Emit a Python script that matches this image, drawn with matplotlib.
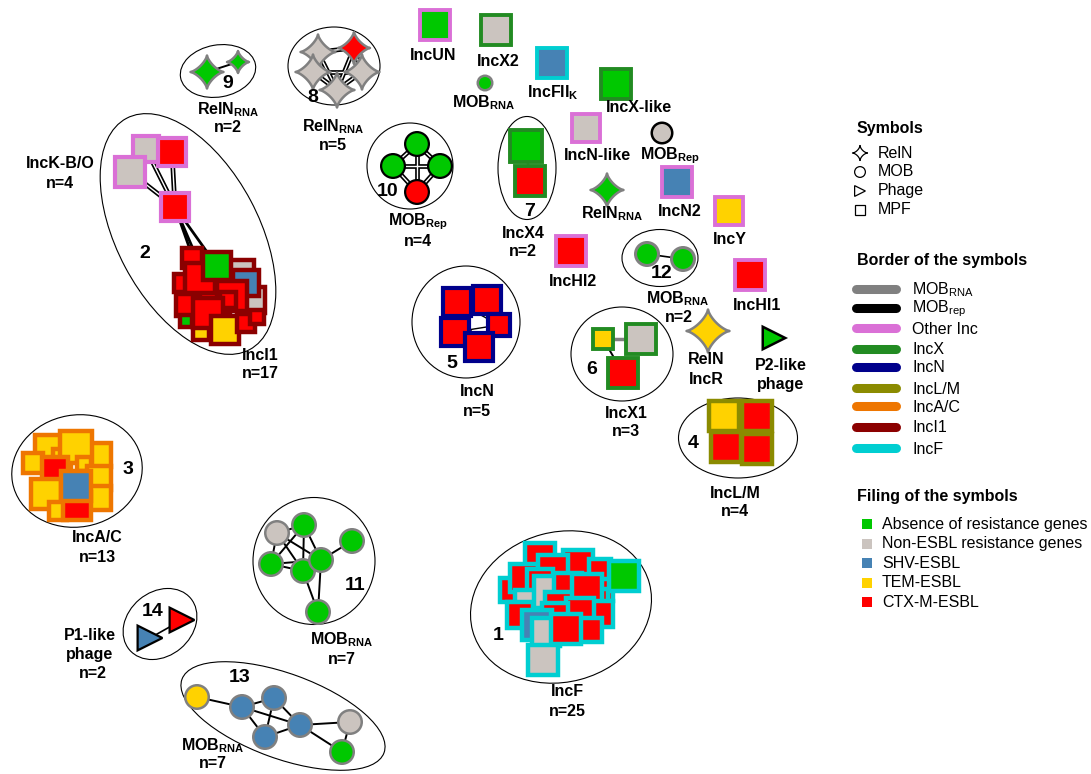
import numpy as np
import matplotlib
matplotlib.use("Agg")
import matplotlib.pyplot as plt
from matplotlib.patches import Rectangle, Circle, Ellipse, Polygon

plt.rcParams['font.family'] = ['Liberation Sans', 'DejaVu Sans']
plt.rcParams['mathtext.fontset'] = 'custom'
plt.rcParams['mathtext.rm'] = 'Liberation Sans'
plt.rcParams['mathtext.bf'] = 'Liberation Sans:bold'
plt.rcParams['mathtext.it'] = 'Liberation Sans:italic'

# filling = resistance content
fill_labels = ['Absence of resistance genes', 'Non-ESBL resistance genes',
               'SHV-ESBL', 'TEM-ESBL', 'CTX-M-ESBL']
fill_keys = ['none', 'nonesbl', 'shv', 'tem', 'ctxm']
fill_colors = ['#00c800', '#cbc4bf', '#4682b4', '#ffd200', '#ff0000']

# border = replicon / MOB type
border_labels = [r'MOB$_{\rm RNA}$', r'MOB$_{\rm rep}$', 'Other Inc', 'IncX', 'IncN',
                 'IncL/M', 'IncA/C', 'IncI1', 'IncF']
border_keys = ['mobrna', 'mobrep', 'other', 'incx', 'incn', 'inclm', 'incac', 'inci1', 'incf']
border_colors = ['#808080', '#000000', '#da70d6', '#228b22', '#00008b',
                 '#8b8b00', '#ee7600', '#8b0000', '#00ced1']

symbol_labels = ['RelN', 'MOB', 'Phage', 'MPF']
symbol_shapes = ['st', 'ci', 'tr', 'sq']

FILL = dict(zip(fill_keys, fill_colors))
BORDER = dict(zip(border_keys, border_colors))

# singletons: x, y, size, shape, fill, border
singletons = [
    (435, 25, 33, 'sq', 'none', 'other'),
    (496, 30, 34, 'sq', 'nonesbl', 'incx'),
    (485, 83, 17, 'ci', 'none', 'mobrna'),
    (552, 63, 33, 'sq', 'shv', 'incf'),
    (616, 84, 33, 'sq', 'none', 'incx'),
    (586, 128, 32, 'sq', 'nonesbl', 'other'),
    (662, 133, 23, 'ci', 'nonesbl', 'mobrep'),
    (607, 190, 34, 'st', 'none', 'mobrna'),
    (677, 182, 33, 'sq', 'shv', 'other'),
    (729, 211, 32, 'sq', 'tem', 'other'),
    (571, 251, 33, 'sq', 'ctxm', 'other'),
    (750, 275, 33, 'sq', 'ctxm', 'other'),
    (708, 331, 44, 'st', 'tem', 'mobrna'),
    (774, 338, 25, 'tr', 'none', 'mobrep'),
]

# cluster 1 IncF (x, y, size, fill)
c1 = [(512, 590, 28, 'ctxm'), (540, 558, 34, 'ctxm'), (578, 565, 34, 'ctxm'),
      (600, 570, 26, 'ctxm'), (524, 578, 32, 'ctxm'), (553, 570, 34, 'ctxm'),
      (540, 582, 30, 'ctxm'), (530, 605, 34, 'nonesbl'), (520, 615, 30, 'ctxm'),
      (550, 592, 36, 'nonesbl'), (568, 587, 32, 'ctxm'), (560, 607, 34, 'ctxm'),
      (602, 590, 26, 'ctxm'), (595, 602, 30, 'ctxm'), (587, 589, 35, 'ctxm'),
      (600, 614, 30, 'ctxm'), (580, 612, 32, 'ctxm'), (555, 616, 30, 'ctxm'),
      (537, 625, 34, 'shv'), (590, 630, 28, 'ctxm'), (546, 632, 33, 'nonesbl'),
      (566, 629, 35, 'ctxm'), (624, 576, 34, 'none'), (543, 660, 35, 'nonesbl')]

# cluster 2: Other Inc part and IncI1 part
c2_other = [(146, 149, 31, 'nonesbl'), (172, 152, 33, 'ctxm'),
            (130, 172, 34, 'nonesbl'), (175, 207, 33, 'ctxm')]
c2_inci1 = [(215, 300, 34, 'ctxm'), (252, 300, 30, 'nonesbl'), (242, 272, 28, 'nonesbl'),
            (246, 283, 31, 'shv'), (192, 258, 24, 'ctxm'), (183, 283, 22, 'ctxm'),
            (187, 305, 26, 'ctxm'), (200, 278, 34, 'ctxm'), (217, 266, 33, 'none'),
            (232, 296, 34, 'ctxm'), (228, 300, 20, 'ctxm'), (186, 321, 16, 'none'),
            (201, 332, 21, 'tem'), (208, 313, 34, 'ctxm'), (225, 330, 32, 'tem'),
            (246, 323, 22, 'ctxm'), (257, 317, 19, 'ctxm')]

# cluster 3 IncA/C
c3 = [(48, 448, 31, 'tem'), (33, 463, 24, 'tem'), (99, 455, 29, 'tem'),
      (62, 458, 22, 'tem'), (76, 447, 37, 'tem'), (84, 464, 18, 'tem'),
      (55, 470, 31, 'ctxm'), (99, 478, 28, 'tem'), (99, 498, 28, 'tem'),
      (46, 494, 34, 'tem'), (58, 511, 22, 'tem'), (77, 506, 32, 'ctxm'),
      (76, 486, 34, 'shv')]

c4 = [(724, 416, 34, 'tem'), (757, 416, 34, 'ctxm'), (726, 447, 34, 'ctxm'), (757, 449, 34, 'ctxm')]
c5 = [(457, 302, 33, 'ctxm'), (487, 300, 33, 'ctxm'), (455, 332, 33, 'ctxm'),
      (499, 325, 26, 'ctxm'), (479, 347, 33, 'ctxm')]
c6 = [(603, 339, 23, 'tem'), (641, 339, 34, 'nonesbl'), (623, 373, 34, 'ctxm')]
c7 = [(526, 146, 35, 'none'), (530, 181, 34, 'ctxm')]
c8 = [(318, 52, 36, 'nonesbl'), (313, 72, 36, 'nonesbl'), (337, 90, 36, 'nonesbl'),
      (362, 72, 36, 'nonesbl'), (354, 48, 33, 'ctxm')]
c9 = [(207, 72, 34, 'none'), (238, 62, 23, 'none')]
c10 = [(417, 144, 26, 'none'), (393, 166, 26, 'none'), (440, 166, 26, 'none'), (417, 192, 26, 'ctxm')]
c11 = [(277, 533, 26, 'nonesbl'), (304, 525, 26, 'none'), (352, 541, 26, 'none'),
       (271, 564, 26, 'none'), (303, 571, 26, 'none'), (321, 560, 26, 'none'), (318, 612, 26, 'none')]
c12 = [(647, 254, 26, 'none'), (683, 259, 26, 'none')]
c13 = [(197, 697, 26, 'tem'), (242, 707, 26, 'shv'), (274, 698, 26, 'shv'),
       (265, 737, 26, 'shv'), (300, 725, 26, 'shv'), (350, 722, 26, 'nonesbl'), (342, 752, 26, 'none')]
c14 = [(150, 638, 27, 'shv'), (182, 620, 27, 'ctxm')]

e10 = [(0, 1), (0, 2), (0, 3), (1, 2), (1, 3), (2, 3)]
e8 = [(0, 1), (1, 2), (2, 3), (3, 4), (4, 0), (0, 2), (1, 3), (2, 4)]
e11 = [(0, 1), (0, 3), (0, 4), (0, 5), (1, 3), (1, 4), (1, 5), (3, 4), (3, 5), (4, 5), (2, 5), (5, 6), (4, 6)]
e13 = [(0, 1), (1, 2), (1, 3), (1, 4), (2, 3), (2, 4), (3, 4), (4, 5), (4, 6), (5, 6)]

# ellipses: cx, cy, width, height, angle
ellipses = [(561, 607, 183, 150, -15), (188, 234, 262, 142, 62), (77, 471, 131, 112, -10),
            (738, 438, 119, 80, 0), (466, 322, 108, 112, 0), (622, 354, 102, 94, 0),
            (527, 168, 58, 103, 0), (334, 66, 92, 78, 0), (218, 71, 76, 52, -10),
            (410, 166, 86, 86, 0), (314, 561, 122, 127, 0), (660, 258, 76, 57, 0),
            (283, 716, 215, 85, 20), (160, 624, 80, 64, -40)]

numbers = [(498, 635, '1'), (145, 253, '2'), (128, 470, '3'), (693, 443, '4'), (452, 363, '5'),
           (592, 370, '6'), (530, 211, '7'), (313, 98, '8'), (228, 83, '9'), (388, 192, '10'),
           (355, 585, '11'), (662, 273, '12'), (240, 678, '13'), (153, 612, '14')]

labels = [(433, 56, 'IncUN'), (498, 61, 'IncX2'), (484, 103, r'MOB$_\mathbf{RNA}$'),
          (553, 93, r'IncFII$_\mathbf{K}$'), (639, 108, 'IncX-like'), (597, 156, 'IncN-like'),
          (670, 156, r'MOB$_\mathbf{Rep}$'), (612, 214, r'RelN$_\mathbf{RNA}$'),
          (680, 211, 'IncN2'), (730, 239, 'IncY'), (573, 281, 'IncHI2'), (757, 306, 'IncHI1'),
          (706, 360, 'RelN'), (706, 379, 'IncR'), (781, 365, 'P2-like'), (781, 384, 'phage'),
          (567, 692, 'IncF'), (567, 712, 'n=25'),
          (60, 163, 'IncK-B/O'), (60, 183, 'n=4'), (260, 355, 'IncI1'), (260, 374, 'n=17'),
          (97, 538, 'IncA/C'), (97, 557, 'n=13'),
          (735, 493, 'IncL/M'), (735, 512, 'n=4'),
          (477, 392, 'IncN'), (477, 411, 'n=5'),
          (626, 413, 'IncX1'), (626, 432, 'n=3'),
          (523, 233, 'IncX4'), (523, 252, 'n=2'),
          (333, 127, r'RelN$_\mathbf{RNA}$'), (333, 146, 'n=5'),
          (228, 110, r'RelN$_\mathbf{RNA}$'), (228, 128, 'n=2'),
          (418, 222, r'MOB$_\mathbf{Rep}$'), (418, 242, 'n=4'),
          (342, 640, r'MOB$_\mathbf{RNA}$'), (342, 659, 'n=7'),
          (678, 299, r'MOB$_\mathbf{RNA}$'), (679, 318, 'n=2'),
          (213, 746, r'MOB$_\mathbf{RNA}$'), (213, 764, 'n=7'),
          (90, 635, 'P1-like'), (90, 654, 'phage'), (93, 673, 'n=2')]

fig = plt.figure(figsize=(10.91, 7.74), dpi=100)
ax = fig.add_axes([0, 0, 1, 1])
ax.set_xlim(0, 1091)
ax.set_ylim(774, 0)
ax.axis('off')


def star(x, y, s, p=2.75):
    t = np.linspace(0, 2 * np.pi, 200)
    c, si = np.cos(t), np.sin(t)
    px = x + s / 2 * np.sign(c) * np.abs(c) ** p
    py = y + s / 2 * np.sign(si) * np.abs(si) ** p
    return np.column_stack([px, py])


def node(x, y, s, shape, fc, ec, lw=2.6, p=2.75):
    inner = s - lw / 0.72
    if shape == 'sq':
        patch = Rectangle((x - inner / 2, y - inner / 2), inner, inner, fc=fc, ec=ec, lw=lw, joinstyle='miter')
    elif shape == 'ci':
        patch = Circle((x, y), inner / 2, fc=fc, ec=ec, lw=lw)
    elif shape == 'st':
        patch = Polygon(star(x, y, s - 1, p), closed=True, fc=fc, ec=ec, lw=lw, joinstyle='round')
    else:
        h = inner / 2
        patch = Polygon([(x - h, y - h), (x - h, y + h), (x + h, y)], closed=True, fc=fc, ec=ec, lw=lw, joinstyle='miter')
    patch.set_zorder(3)
    ax.add_patch(patch)


def group(nodes, shape, border, lw=2.6):
    for x, y, s, f in nodes:
        node(x, y, s, shape, FILL[f], BORDER[border], lw)


def edges(nodes, pairs, double=False, color='black', lw=1.4):
    for i, j in pairs:
        xs = [nodes[i][0], nodes[j][0]]
        ys = [nodes[i][1], nodes[j][1]]
        if double:
            ax.plot(xs, ys, color='black', lw=3.4, zorder=1)
            ax.plot(xs, ys, color='white', lw=1.0, zorder=1.5)
        else:
            ax.plot(xs, ys, color=color, lw=lw, zorder=1)


for cx, cy, w, h, a in ellipses:
    ax.add_patch(Ellipse((cx, cy), w, h, angle=a, fill=False, ec='black', lw=0.8, zorder=0.5))

# edges
edges(c2_other, [(0, 3), (2, 3), (1, 3)], double=True)
link = [c2_other[3], c2_inci1[7], c2_inci1[8], c2_inci1[0]]
edges(link, [(0, 1), (0, 2), (0, 3)], lw=2.0)
edges(c7, [(0, 1)], color='#808080', lw=2)
edges(c6, [(0, 1)], color='#808080', lw=2.5)
edges(c6, [(0, 2)])
edges(c8, e8, double=True)
edges(c9, [(0, 1)])
edges(c10, e10, double=True)
edges(c11, e11)
edges(c12, [(0, 1)], lw=1.2)
edges(c13, e13)
edges(c14, [(0, 1)], lw=1.2)
edges(c5, [(0, 3), (1, 2), (2, 3), (0, 4)], lw=1.0)

# nodes
for x, y, s, shp, f, b in singletons:
    lw = 2.8 if shp == 'sq' else 1.8
    node(x, y, s, shp, FILL[f], BORDER[b], lw)
group(c1, 'sq', 'incf', 3.2)
group(c2_other, 'sq', 'other', 3.0)
group(c2_inci1, 'sq', 'inci1', 3.2)
group(c3, 'sq', 'incac', 3.2)
group(c4, 'sq', 'inclm', 3.2)
group(c5, 'sq', 'incn', 3.0)
group(c6, 'sq', 'incx', 2.8)
group(c7, 'sq', 'incx', 2.8)
group(c8, 'st', 'mobrna', 1.8)
group(c9, 'st', 'mobrna', 1.8)
group(c10, 'ci', 'mobrep', 1.6)
group(c11, 'ci', 'mobrna', 1.8)
group(c12, 'ci', 'mobrna', 2.2)
group(c13, 'ci', 'mobrna', 1.8)
group(c14, 'tr', 'mobrep', 1.6)

for x, y, t in numbers:
    ax.text(x, y, t, fontsize=14, fontweight='bold', ha='center', va='center', zorder=5)
for x, y, t in labels:
    ax.text(x, y, t, fontsize=11.5, fontweight='bold', ha='center', va='center', zorder=5)

# legend
ax.text(857, 128, 'Symbols', fontsize=11.5, fontweight='bold', ha='left', va='center')
for k, (lab, shp) in enumerate(zip(symbol_labels, symbol_shapes)):
    y = 153 + k * 19
    sz = 16 if shp == 'st' else 12
    node(860, y, sz, shp, 'white', 'black', 0.9, p=3.0)
    ax.text(878, y, lab, fontsize=11.5, ha='left', va='center')

ax.text(857, 260, 'Border of the symbols', fontsize=11.5, fontweight='bold', ha='left', va='center')
border_y = [289, 308, 328, 349, 367, 388, 406, 427, 448]
for y, lab, col in zip(border_y, border_labels, border_colors):
    ax.plot([856, 896], [y, y], color=col, lw=6.5, solid_capstyle='round')
    ax.text(912, y + 1, lab, fontsize=11.5, ha='left', va='center')

ax.text(857, 497, 'Filing of the symbols', fontsize=11.5, fontweight='bold', ha='left', va='center')
for k, (lab, col) in enumerate(zip(fill_labels, fill_colors)):
    y = 524 + k * 19.6
    ax.add_patch(Rectangle((862, y - 5), 10, 10, fc=col, ec='none'))
    ax.text(882, y, lab, fontsize=11.5, ha='left', va='center')

fig.savefig('out.png', dpi=100)
